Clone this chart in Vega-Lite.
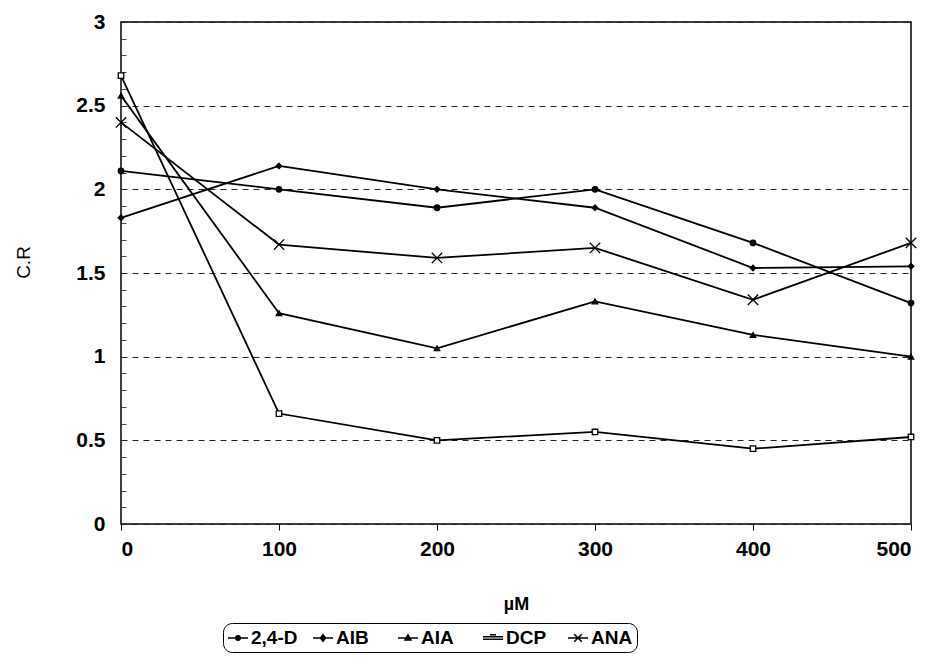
{
  "$schema": "https://vega.github.io/schema/vega-lite/v6.json",
  "width": 790,
  "height": 502,
  "autosize": "none",
  "padding": {"left": 121, "top": 22, "right": 21, "bottom": 141},
  "background": "white",
  "config": {
    "font": "Liberation Sans",
    "view": {"stroke": "black", "strokeWidth": 1.5},
    "axis": {"labelFont": "Liberation Sans", "titleFont": "Liberation Sans", "labelColor": "black", "titleColor": "black"}
  },
  "data": {
    "values": [
      {"s": "2,4-D", "x": 0, "y": 2.11}, {"s": "2,4-D", "x": 100, "y": 2.0}, {"s": "2,4-D", "x": 200, "y": 1.89}, {"s": "2,4-D", "x": 300, "y": 2.0}, {"s": "2,4-D", "x": 400, "y": 1.68}, {"s": "2,4-D", "x": 500, "y": 1.32},
      {"s": "AIB", "x": 0, "y": 1.83}, {"s": "AIB", "x": 100, "y": 2.14}, {"s": "AIB", "x": 200, "y": 2.0}, {"s": "AIB", "x": 300, "y": 1.89}, {"s": "AIB", "x": 400, "y": 1.53}, {"s": "AIB", "x": 500, "y": 1.54},
      {"s": "AIA", "x": 0, "y": 2.56}, {"s": "AIA", "x": 100, "y": 1.26}, {"s": "AIA", "x": 200, "y": 1.05}, {"s": "AIA", "x": 300, "y": 1.33}, {"s": "AIA", "x": 400, "y": 1.13}, {"s": "AIA", "x": 500, "y": 1.0},
      {"s": "DCP", "x": 0, "y": 2.68}, {"s": "DCP", "x": 100, "y": 0.66}, {"s": "DCP", "x": 200, "y": 0.5}, {"s": "DCP", "x": 300, "y": 0.55}, {"s": "DCP", "x": 400, "y": 0.45}, {"s": "DCP", "x": 500, "y": 0.52},
      {"s": "ANA", "x": 0, "y": 2.4}, {"s": "ANA", "x": 100, "y": 1.67}, {"s": "ANA", "x": 200, "y": 1.59}, {"s": "ANA", "x": 300, "y": 1.65}, {"s": "ANA", "x": 400, "y": 1.34}, {"s": "ANA", "x": 500, "y": 1.68}
    ]
  },
  "resolve": {"scale": {"shape": "independent", "fill": "independent"}, "axis": {"y": "independent", "x": "independent"}},
  "layer": [
    {
      "mark": {"type": "line", "color": "black", "strokeWidth": 1.8},
      "encoding": {
        "x": {"field": "x", "type": "quantitative", "scale": {"domain": [0, 500], "nice": false},
          "axis": {"values": [0, 100, 200, 300, 400, 500], "grid": false, "domain": false, "tickColor": "black", "tickSize": 6, "labelPadding": 8, "labelFontSize": 21, "labelFontWeight": "bold", "title": "µM", "titleFontSize": 18, "titleFontWeight": "bold", "titlePadding": 36}},
        "y": {"field": "y", "type": "quantitative", "scale": {"domain": [0, 3], "nice": false},
          "axis": {"values": [0, 0.5, 1, 1.5, 2, 2.5, 3], "format": "~g", "grid": true, "gridColor": "#222", "gridDash": [6, 5], "gridWidth": 1, "domain": false, "ticks": false, "labelPadding": 16, "labelFontSize": 21, "labelFontWeight": "bold", "title": "C.R", "titleFontSize": 19, "titleFontWeight": "normal", "titleX": -88, "titleY": 240, "titleAngle": -90}},
        "detail": {"field": "s", "type": "nominal"}
      }
    },
    {
      "mark": {"type": "point", "filled": false, "stroke": "black", "strokeWidth": 1.3, "size": 30, "opacity": 1},
      "encoding": {
        "x": {"field": "x", "type": "quantitative", "axis": null},
        "y": {"field": "y", "type": "quantitative",
          "axis": {"orient": "left", "offset": -5, "values": [0.1, 0.2, 0.3, 0.4, 0.6, 0.7, 0.8, 0.9, 1.1, 1.2, 1.3, 1.4, 1.6, 1.7, 1.8, 1.9, 2.1, 2.2, 2.3, 2.4, 2.6, 2.7, 2.8, 2.9], "labels": false, "grid": false, "domain": false, "ticks": true, "tickSize": 5, "tickColor": "#444", "title": null}},
        "shape": {"field": "s", "type": "nominal", "legend": null,
          "scale": {"domain": ["2,4-D", "AIB", "AIA", "DCP", "ANA"], "range": ["circle", "diamond", "triangle-up", "square", "M-1.9,-1.9L1.9,1.9M-1.9,1.9L1.9,-1.9"]}},
        "fill": {"field": "s", "type": "nominal", "legend": null,
          "scale": {"domain": ["2,4-D", "AIB", "AIA", "DCP", "ANA"], "range": ["black", "black", "black", "white", "black"]}}
      }
    },
    {
      "mark": {"type": "point", "filled": false, "stroke": "black", "strokeWidth": 1.5, "opacity": 0, "size": 1},
      "encoding": {
        "x": {"field": "x", "type": "quantitative", "axis": null},
        "y": {"field": "y", "type": "quantitative", "axis": null},
        "shape": {"field": "s", "type": "nominal",
          "scale": {"domain": ["2,4-D", "AIB", "AIA", "DCP", "ANA"], "range": [
            "M-1,0H1M-0.22,0A0.22,0.22 0 1,0 0.22,0A0.22,0.22 0 1,0 -0.22,0ZM-0.1,0A0.1,0.1 0 1,0 0.1,0A0.1,0.1 0 1,0 -0.1,0Z",
            "M-1,0H1M0,-0.32L0.26,0L0,0.32L-0.26,0ZM0,-0.2V0.2",
            "M-1,0H1M0,-0.32L0.3,0.2H-0.3ZM0,-0.15L0.14,0.1H-0.14Z",
            "M-1,-0.12H1M-1,0.12H1M-0.3,-0.32H0.3",
            "M-1,0H1M-0.38,-0.38L0.38,0.38M-0.38,0.38L0.38,-0.38"]},
          "legend": {
            "orient": "none", "legendX": 102, "legendY": 601, "direction": "horizontal", "columns": 5,
            "gridAlign": "all", "columnPadding": 12, "title": null,
            "symbolSize": 400, "symbolOpacity": 1, "symbolFillColor": "black", "symbolStrokeColor": "black", "symbolStrokeWidth": 1.5,
            "labelFontSize": 19, "labelFontWeight": "bold", "labelColor": "black", "labelOffset": 2,
            "strokeColor": "black", "fillColor": "white", "cornerRadius": 9, "padding": 4
          }
        }
      }
    }
  ]
}
